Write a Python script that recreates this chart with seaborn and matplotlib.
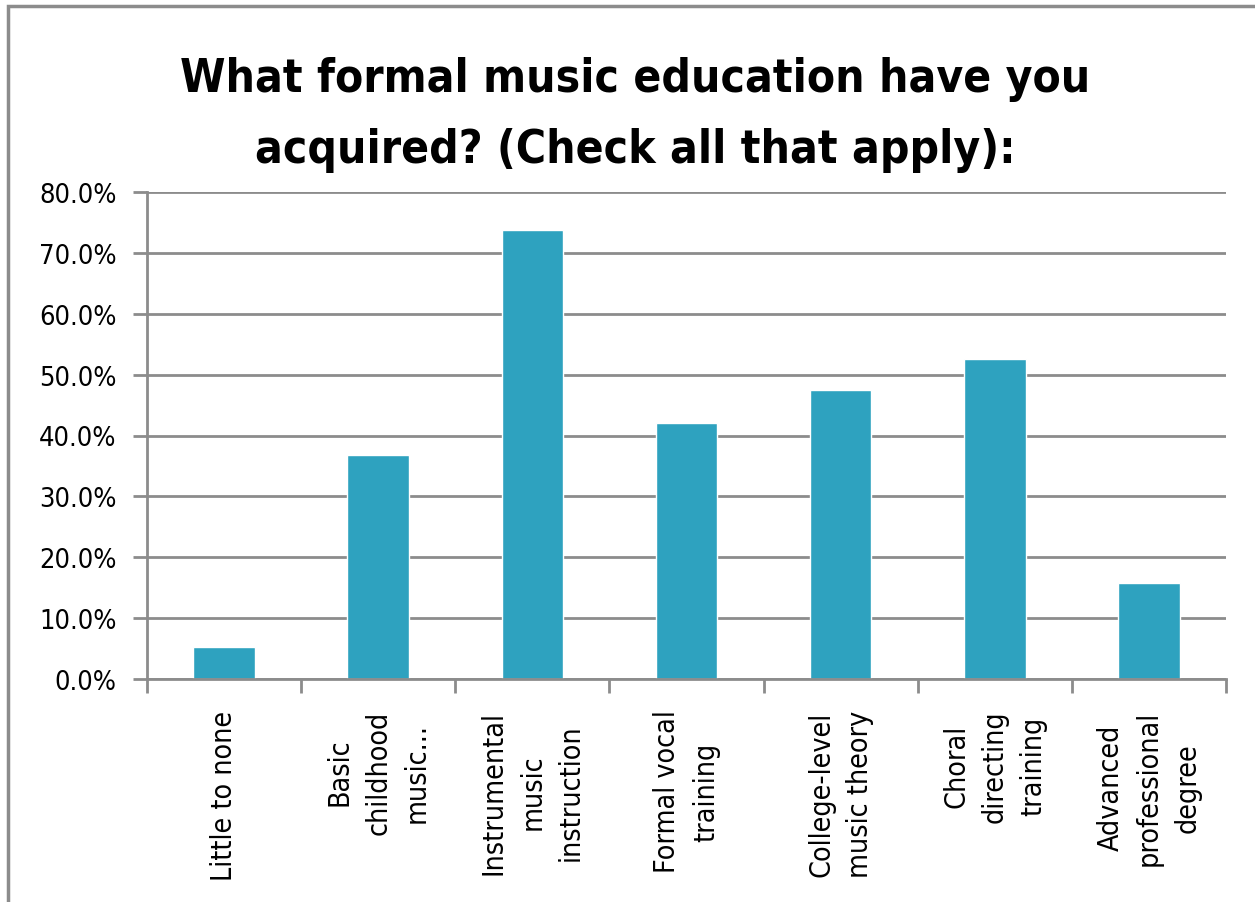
import matplotlib
matplotlib.use("Agg")
import matplotlib.pyplot as plt
import seaborn as sns
import pandas as pd
from matplotlib.patches import Rectangle
from matplotlib.ticker import FuncFormatter, MultipleLocator

categories = ["Little to none", "Basic\nchildhood\nmusic...", "Instrumental\nmusic\ninstruction",
              "Formal vocal\ntraining", "College-level\nmusic theory", "Choral\ndirecting\ntraining",
              "Advanced\nprofessional\ndegree"]
values = [5.3, 36.8, 73.7, 42.1, 47.4, 52.6, 15.8]
title = "What formal music education have you\nacquired? (Check all that apply):"

sns.set_theme(style="white")
plt.rcParams['font.family'] = ['DejaVu Sans']
plt.rcParams['text.color'] = 'black'
plt.rcParams['xtick.color'] = 'black'
plt.rcParams['ytick.color'] = 'black'

df = pd.DataFrame({"cat": categories, "val": values})

fig = plt.figure(figsize=(12.55, 9.03), dpi=100)
ax = fig.add_axes([147/1255, 223/903, (1226-147)/1255, (680-193)/903])

sns.barplot(data=df, x="cat", y="val", color="#2EA2BF", saturation=1, width=0.4, ax=ax)

grid_c = "#8C8C8C"
ax.set_ylim(0, 80)
ax.set_xlim(-0.5, len(categories) - 0.5)
ax.yaxis.set_major_locator(MultipleLocator(10))
ax.yaxis.set_major_formatter(FuncFormatter(lambda v, p: f"{v:.1f}%"))
ax.grid(axis="y", color=grid_c, linewidth=2)
ax.set_axisbelow(True)
for s in ["top", "right"]:
    ax.spines[s].set_visible(False)
for s in ["left", "bottom"]:
    ax.spines[s].set_color(grid_c)
    ax.spines[s].set_linewidth(2)

ax.set_xlabel("")
ax.set_ylabel("")
ax.set_xticks([i for i in range(len(categories))])
ax.set_xticklabels(categories, rotation=90, ha="center", va="top", multialignment="center",
                   fontsize=20.5, fontstretch="condensed", linespacing=1.48, color="black")
ax.tick_params(axis="x", length=0, pad=22)
ax.set_xticks([i - 0.5 for i in range(len(categories) + 1)], minor=True)
ax.tick_params(axis="x", which="minor", length=10, width=2, color=grid_c, bottom=True)
ax.tick_params(axis="y", length=10, width=2, color=grid_c, labelsize=19.5, pad=12, left=True,
               labelcolor="black")
for lab in ax.get_yticklabels():
    lab.set_fontstretch("condensed")

fig.text(0.506, 0.937, title, ha="center", va="top", fontsize=33, fontweight="bold",
         fontstretch="condensed", linespacing=1.75, color="black")

border = Rectangle((8/1255, -0.1), 1.1, 1 - 7/903 + 0.1, transform=fig.transFigure,
                   fill=False, edgecolor="#8C8C8C", linewidth=2.5)
fig.patches.append(border)

fig.savefig("out.png", dpi=100)
